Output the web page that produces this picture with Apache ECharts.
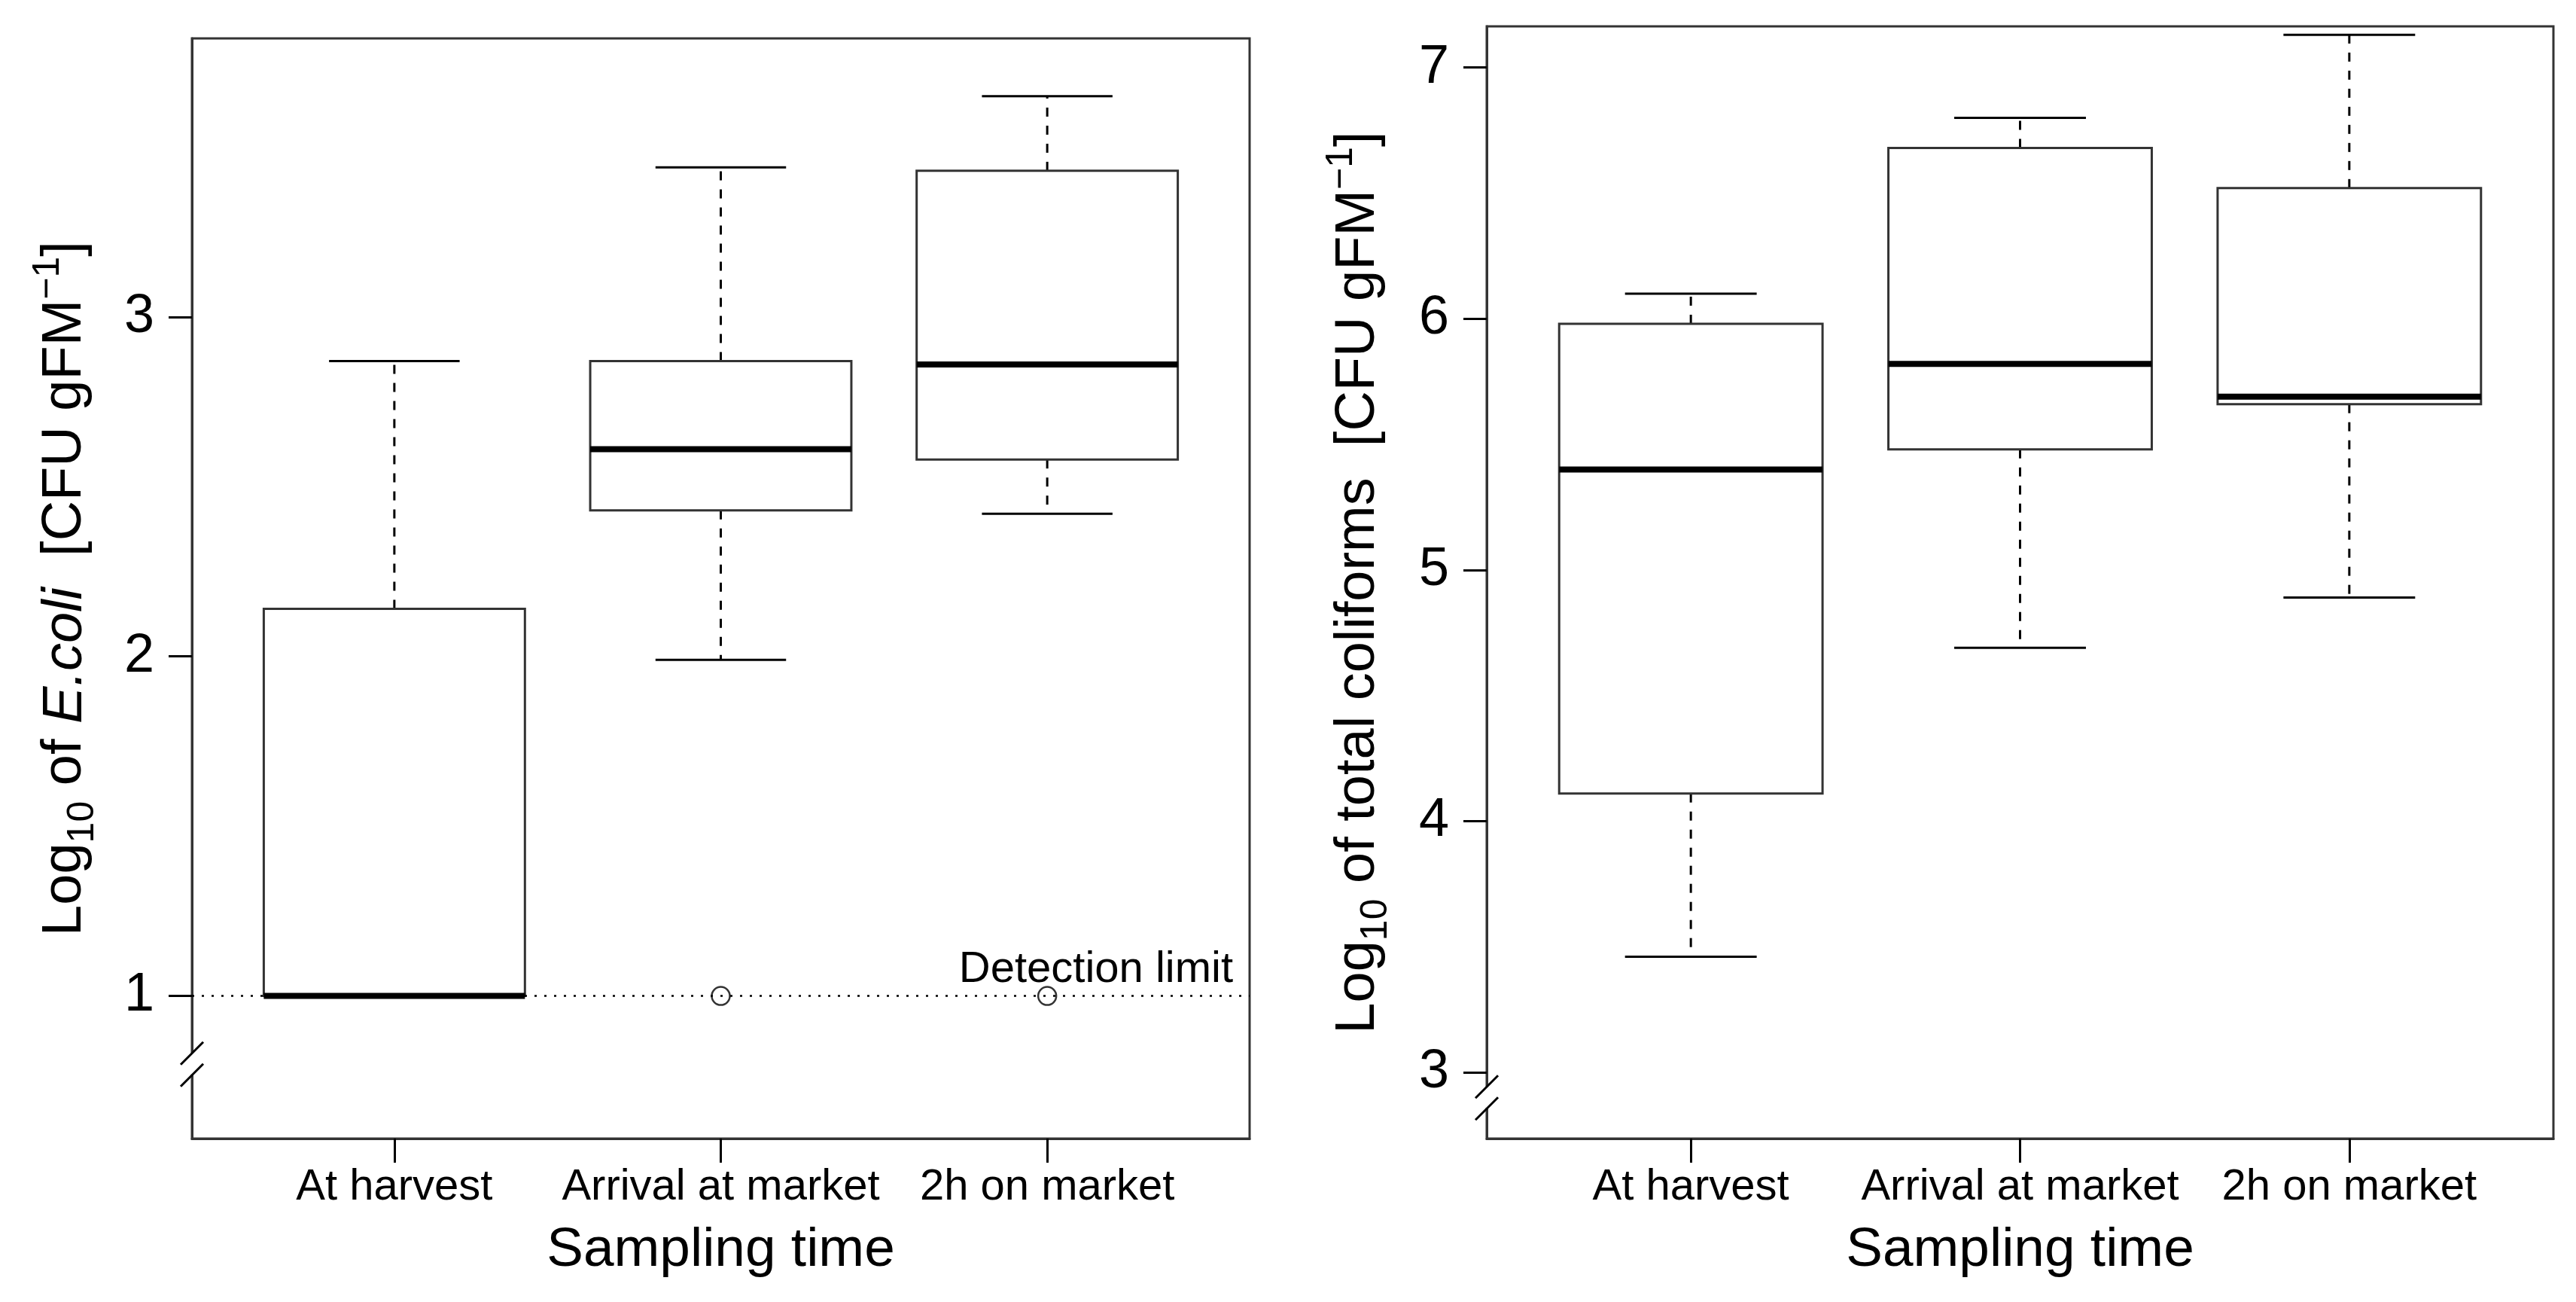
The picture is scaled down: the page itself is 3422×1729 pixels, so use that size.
<!DOCTYPE html>
<html>
<head>
<meta charset="utf-8">
<script src="https://cdn.jsdelivr.net/npm/echarts@6/dist/echarts.min.js"></script>
<style>
html, body { margin: 0; padding: 0; background: #fff; }
#chart { width: 3422px; height: 1729px; }
</style>
</head>
<body>
<div id="chart"></div>
<script>
// sampling times (x positions 1..3)
const categories = ['At harvest', 'Arrival at market', '2h on market'];
const groupPos = [1, 2, 3];

// left panel: log10 E.coli
const ecoliMin = [1.0, 1.99, 2.42];
const ecoliQ1 = [1.0, 2.43, 2.58];
const ecoliMedian = [1.0, 2.61, 2.86];
const ecoliQ3 = [2.14, 2.87, 3.43];
const ecoliMax = [2.87, 3.44, 3.65];
const ecoliOutlierGroup = [2, 3];
const ecoliOutlierValue = [1.0, 1.0];
const ecoliTicks = [1, 2, 3];
const detectionLimit = 1;

// right panel: log10 total coliforms
const coliMin = [3.46, 4.69, 4.89];
const coliQ1 = [4.11, 5.48, 5.66];
const coliMedian = [5.40, 5.82, 5.69];
const coliQ3 = [5.98, 6.68, 6.52];
const coliMax = [6.10, 6.80, 7.13];
const coliTicks = [3, 4, 5, 6, 7];

const FONT = 'Liberation Sans';
const FRAME = '#333';

const chart = echarts.init(document.getElementById('chart'), null, { renderer: 'canvas' });

function boxData(mins, q1s, meds, q3s, maxs) {
  return groupPos.map((x, i) => [x, mins[i], q1s[i], meds[i], q3s[i], maxs[i]]);
}

function renderBox(params, api) {
  const x = api.value(0);
  const lo = api.value(1), q1 = api.value(2), med = api.value(3), q3 = api.value(4), hi = api.value(5);
  const tl = api.coord([x - 0.4, q3]);
  const br = api.coord([x + 0.4, q1]);
  const children = [];
  const dash = { stroke: '#000', lineWidth: 3, lineDash: [12, 12] };
  const solid = { stroke: '#000', lineWidth: 3 };
  if (hi > q3) {
    const a = api.coord([x, q3]), b = api.coord([x, hi]);
    children.push({ type: 'line', shape: { x1: a[0], y1: a[1], x2: b[0], y2: b[1] }, style: dash });
    const c1 = api.coord([x - 0.2, hi]), c2 = api.coord([x + 0.2, hi]);
    children.push({ type: 'line', shape: { x1: c1[0], y1: c1[1], x2: c2[0], y2: c2[1] }, style: solid });
  }
  if (lo < q1) {
    const a = api.coord([x, q1]), b = api.coord([x, lo]);
    children.push({ type: 'line', shape: { x1: a[0], y1: a[1], x2: b[0], y2: b[1] }, style: dash });
    const c1 = api.coord([x - 0.2, lo]), c2 = api.coord([x + 0.2, lo]);
    children.push({ type: 'line', shape: { x1: c1[0], y1: c1[1], x2: c2[0], y2: c2[1] }, style: solid });
  }
  children.push({
    type: 'rect',
    shape: { x: tl[0], y: tl[1], width: br[0] - tl[0], height: br[1] - tl[1] },
    style: { fill: 'none', stroke: FRAME, lineWidth: 3 }
  });
  const m1 = api.coord([x - 0.4, med]), m2 = api.coord([x + 0.4, med]);
  children.push({ type: 'line', shape: { x1: m1[0], y1: m1[1], x2: m2[0], y2: m2[1] }, style: { stroke: '#000', lineWidth: 8 } });
  return { type: 'group', children };
}

// axis break "//" on the y axis
function renderBreak(params, api) {
  const p = api.coord([api.value(0), api.value(1)]);
  const slash = (dy) => ({
    type: 'line',
    shape: { x1: p[0] - 15, y1: p[1] + dy + 15, x2: p[0] + 15, y2: p[1] + dy - 15 },
    style: { stroke: '#000', lineWidth: 3 }
  });
  return {
    type: 'group',
    children: [
      { type: 'rect', shape: { x: p[0] - 6, y: p[1] - 14, width: 12, height: 28 }, style: { fill: '#fff' } },
      slash(-14),
      slash(15)
    ]
  };
}

const richName = {
  n: { fontSize: 74, fontFamily: FONT, color: '#000', lineHeight: 96 },
  i: { fontSize: 74, fontFamily: FONT, color: '#000', fontStyle: 'italic', lineHeight: 96 },
  s: { fontSize: 50, fontFamily: FONT, color: '#000', verticalAlign: 'bottom', lineHeight: 50 },
  p: { fontSize: 50, fontFamily: FONT, color: '#000', verticalAlign: 'top', lineHeight: 50 }
};

function xAxisFor(gridIndex) {
  return {
    gridIndex,
    type: 'value',
    min: 0.38,
    max: 3.62,
    name: 'Sampling time',
    nameLocation: 'middle',
    nameGap: 112,
    nameTextStyle: { fontSize: 73, fontFamily: FONT, color: '#000' },
    axisLine: { show: true, lineStyle: { color: FRAME, width: 3 } },
    axisTick: { show: true, customValues: groupPos, length: 32, lineStyle: { color: '#000', width: 3 } },
    axisLabel: {
      customValues: groupPos,
      formatter: (v) => categories[Math.round(v) - 1] || '',
      fontSize: 58, fontFamily: FONT, color: '#000', margin: 36
    },
    splitLine: { show: false }
  };
}

function yAxisFor(gridIndex, min, max, ticks, name, gap) {
  return {
    gridIndex,
    type: 'value',
    min, max,
    name,
    nameLocation: 'middle',
    nameRotate: 90,
    nameGap: gap,
    nameTextStyle: { rich: richName },
    axisLine: { show: true, lineStyle: { color: FRAME, width: 3 } },
    axisTick: { show: true, customValues: ticks, length: 31, lineStyle: { color: '#000', width: 3 } },
    axisLabel: { customValues: ticks, fontSize: 72, fontFamily: FONT, color: '#000', margin: 50 },
    splitLine: { show: false }
  };
}

const option = {
  backgroundColor: '#fff',
  animation: false,
  grid: [
    { left: 255, top: 51, width: 1405, height: 1461, show: true, borderColor: FRAME, borderWidth: 3, backgroundColor: 'transparent' },
    { left: 1975, top: 35, width: 1417, height: 1477, show: true, borderColor: FRAME, borderWidth: 3, backgroundColor: 'transparent' }
  ],
  xAxis: [xAxisFor(0), xAxisFor(1)],
  yAxis: [
    yAxisFor(0, 0.58, 3.82, ecoliTicks, '{n|Log}{s|10}{n| of }{i|E.coli}{n|  [CFU gFM}{p|\u22121}{n|]}', 120),
    yAxisFor(1, 2.736, 7.164, coliTicks, '{n|Log}{s|10}{n| of total coliforms  [CFU gFM}{p|\u22121}{n|]}', 122)
  ],
  series: [
    {
      type: 'custom',
      xAxisIndex: 0, yAxisIndex: 0,
      renderItem: renderBox,
      encode: { x: 0, y: [1, 2, 3, 4, 5] },
      data: boxData(ecoliMin, ecoliQ1, ecoliMedian, ecoliQ3, ecoliMax),
      clip: false,
      z: 3,
      markLine: {
        silent: true,
        symbol: 'none',
        data: [{ yAxis: detectionLimit }],
        lineStyle: { type: [3, 10], color: '#000', width: 2.5 },
        label: {
          position: 'insideEndTop',
          formatter: 'Detection limit',
          fontSize: 58, fontFamily: FONT, color: '#000',
          distance: [22, 6]
        }
      }
    },
    {
      type: 'scatter',
      xAxisIndex: 0, yAxisIndex: 0,
      data: ecoliOutlierGroup.map((g, i) => [g, ecoliOutlierValue[i]]),
      symbol: 'circle',
      symbolSize: 24,
      itemStyle: { color: 'transparent', borderColor: '#000', borderWidth: 2.5 },
      z: 4
    },
    {
      type: 'custom',
      xAxisIndex: 1, yAxisIndex: 1,
      renderItem: renderBox,
      encode: { x: 0, y: [1, 2, 3, 4, 5] },
      data: boxData(coliMin, coliQ1, coliMedian, coliQ3, coliMax),
      clip: false,
      z: 3
    },
    {
      type: 'custom',
      xAxisIndex: 0, yAxisIndex: 0,
      renderItem: renderBreak,
      data: [[0.38, 0.8]],
      clip: false,
      z: 10
    },
    {
      type: 'custom',
      xAxisIndex: 1, yAxisIndex: 1,
      renderItem: renderBreak,
      data: [[0.38, 2.9]],
      clip: false,
      z: 10
    }
  ]
};

chart.setOption(option);
</script>
</body>
</html>
